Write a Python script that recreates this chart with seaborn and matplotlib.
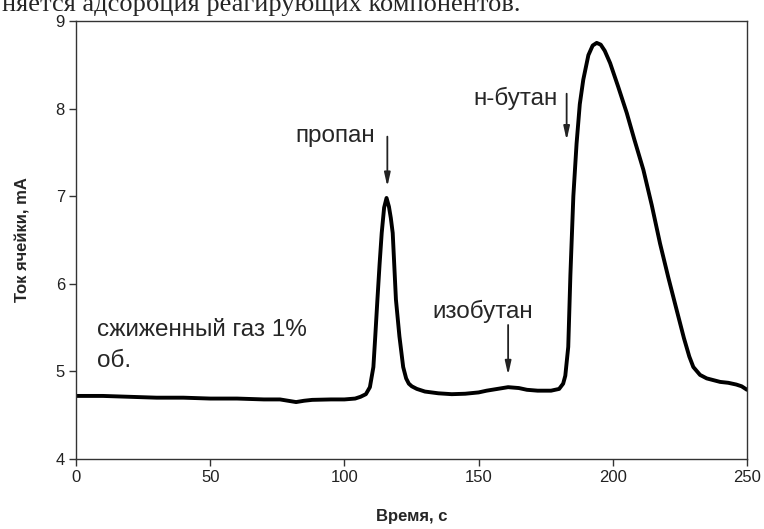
import matplotlib
matplotlib.use("Agg")
import matplotlib.pyplot as plt
import seaborn as sns
import pandas as pd

# ---- data ----
time_s = [0, 10, 20, 30, 40, 50, 60, 70, 76, 79, 82, 85, 88, 95, 100, 104, 106,
          108, 109.5, 110.8, 111.5, 112.3, 113.1, 113.9, 114.8, 115.7, 116.6,
          117.3, 118, 118.6, 119.2, 120.5, 121.9, 123, 124, 125.1, 127, 130,
          135, 140, 145, 150, 153, 157, 161, 165, 168, 172, 177, 180, 181.5,
          182.3, 183.4, 184.2, 185.3, 186.5, 187.7, 189, 190.9, 192.5, 194,
          195.5, 197, 199, 202, 205.2, 208, 211.4, 214.5, 217.6, 220.7, 223.8,
          226.5, 228.5, 230, 232.5, 235, 240, 243, 246, 248, 250]
current_mA = [4.72, 4.72, 4.71, 4.70, 4.70, 4.69, 4.69, 4.68, 4.68, 4.665,
              4.65, 4.665, 4.675, 4.68, 4.68, 4.69, 4.71,
              4.74, 4.82, 5.05, 5.40, 5.82, 6.22, 6.58, 6.87, 6.98, 6.88,
              6.75, 6.58, 6.20, 5.82, 5.40, 5.05, 4.92, 4.86, 4.83, 4.80, 4.77,
              4.75, 4.74, 4.745, 4.76, 4.78, 4.80, 4.82, 4.81, 4.79, 4.78, 4.78, 4.80, 4.86,
              4.95, 5.28, 6.10, 7.00, 7.60, 8.05, 8.33, 8.61, 8.72, 8.75,
              8.73, 8.66, 8.52, 8.25, 7.95, 7.65, 7.30, 6.90, 6.46, 6.07, 5.70,
              5.38, 5.17, 5.05, 4.96, 4.92, 4.88, 4.87, 4.85, 4.83, 4.79]
x_ticks = [0, 50, 100, 150, 200, 250]
y_ticks = [4, 5, 6, 7, 8, 9]

peak_labels = ["пропан", "изобутан", "н-бутан"]
peak_times = [116, 161, 182.8]
arrow_top = [7.68, 5.53, 8.17]
arrow_tip = [7.11, 4.96, 7.64]

sample_text = ["сжиженный газ 1%", "об."]
header_text = "няется адсорбция реагирующих компонентов."

# ---- style ----
sns.set_style("ticks")
plt.rcParams["font.family"] = ["Liberation Sans", "DejaVu Sans"]

fig = plt.figure(figsize=(7.64, 5.29), dpi=100)
ax = fig.add_axes([76 / 764, 1 - 459 / 529, (747 - 76) / 764, (459 - 21) / 529])

df = pd.DataFrame({"t": time_s, "I": current_mA})
sns.lineplot(data=df, x="t", y="I", ax=ax, color="black", linewidth=2.8,
             sort=False, estimator=None)

ax.set_xlim(0, 250)
ax.set_ylim(4, 9)
ax.set_xticks(x_ticks)
ax.set_yticks(y_ticks)
for s in ax.spines.values():
    s.set_visible(True)
    s.set_color("#333333")
    s.set_linewidth(1.0)
ax.tick_params(direction="out", length=5, width=1, color="#333333",
               labelsize=12, labelcolor="#222222", pad=3)
ax.set_xlabel("Время, с", fontsize=12, fontweight="bold", labelpad=17)
ax.set_ylabel("Ток ячейки, mA", fontsize=12, fontweight="bold", labelpad=18)

# ---- annotations ----
arrow_kw = dict(arrowstyle="-|>,head_width=0.18,head_length=0.8", color="#222222",
                lw=1.3, shrinkA=0, shrinkB=0)
for t, top, tip in zip(peak_times, arrow_top, arrow_tip):
    ax.annotate("", xy=(t, tip), xytext=(t, top), arrowprops=arrow_kw)

ax.text(111.4, 7.62, peak_labels[0], ha="right", va="baseline", fontsize=17.5)
ax.text(151.5, 5.61, peak_labels[1], ha="center", va="baseline", fontsize=17.5)
ax.text(179.6, 8.04, peak_labels[2], ha="right", va="baseline", fontsize=17.5)

ax.text(7.8, 5.40, sample_text[0], ha="left", va="baseline", fontsize=17.5)
ax.text(7.8, 5.05, sample_text[1], ha="left", va="baseline", fontsize=17.5)

fig.text(2 / 764, 1 - 11 / 529, header_text, ha="left", va="baseline",
         fontsize=19, family=["Liberation Serif", "DejaVu Serif"])

fig.savefig("out.png", dpi=100)
